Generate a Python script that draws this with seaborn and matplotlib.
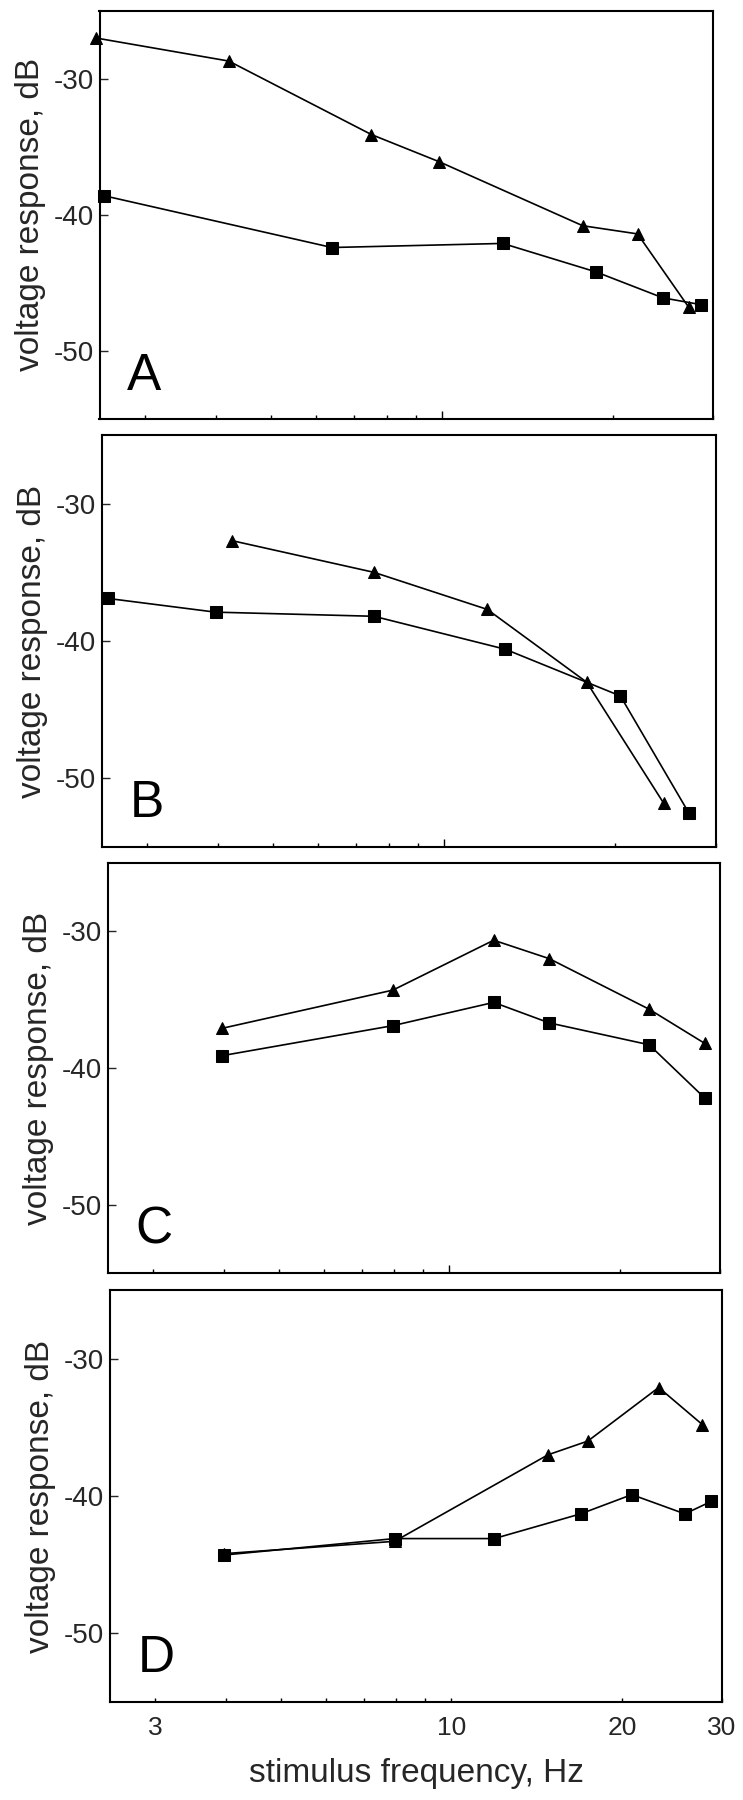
import numpy as np
import pandas as pd
import matplotlib
matplotlib.use("Agg")
import matplotlib.pyplot as plt
import seaborn as sns

# ---- data ----
panels = ["A", "B", "C", "D"]

a_tri_f = [2.46, 4.22, 7.52, 9.9, 17.7, 22.1, 27.2]
a_tri_db = [-27.0, -28.7, -34.1, -36.1, -40.8, -41.4, -46.8]
a_sq_f = [2.55, 6.41, 12.8, 18.7, 24.5, 28.6]
a_sq_db = [-38.6, -42.4, -42.1, -44.2, -46.1, -46.6]

b_tri_f = [4.24, 7.52, 11.9, 17.8, 24.3]
b_tri_db = [-32.7, -35.0, -37.7, -43.0, -51.8]
b_sq_f = [2.56, 3.96, 7.52, 12.8, 20.4, 26.9]
b_sq_db = [-36.9, -37.9, -38.2, -40.6, -44.0, -52.5]

c_tri_f = [3.97, 7.95, 11.97, 15.0, 22.5, 28.2]
c_tri_db = [-37.1, -34.3, -30.65, -32.0, -35.7, -38.2]
c_sq_f = [3.97, 7.95, 11.97, 15.0, 22.5, 28.2]
c_sq_db = [-39.1, -36.9, -35.2, -36.7, -38.3, -42.2]

d_tri_f = [3.97, 7.94, 14.8, 17.4, 23.2, 27.7]
d_tri_db = [-44.2, -43.3, -37.0, -36.0, -32.1, -34.8]
d_sq_f = [3.97, 7.94, 11.9, 16.9, 20.8, 25.8, 28.7]
d_sq_db = [-44.3, -43.1, -43.1, -41.3, -39.9, -41.3, -40.4]

y_ticks = [-30, -40, -50]
x_tick_labels = ["3", "10", "20", "30"]
x_major = [3, 10, 20, 30]
x_minor = [4, 5, 6, 7, 8, 9]

series = {
    "A": (a_tri_f, a_tri_db, a_sq_f, a_sq_db),
    "B": (b_tri_f, b_tri_db, b_sq_f, b_sq_db),
    "C": (c_tri_f, c_tri_db, c_sq_f, c_sq_db),
    "D": (d_tri_f, d_tri_db, d_sq_f, d_sq_db),
}

# ---- style ----
sns.set_style("ticks")
plt.rcParams["font.family"] = ["Liberation Sans", "DejaVu Sans"]
plt.rcParams["axes.linewidth"] = 1.5
plt.rcParams["axes.unicode_minus"] = False

W, H = 743, 1800
fig = plt.figure(figsize=(W / 100, H / 100), dpi=100)

# axes boxes in pixels: left, right, top, bottom
boxes = {
    "A": (99.5, 713, 10.7, 419),
    "B": (102, 715.6, 435, 847),
    "C": (108, 720, 863, 1273),
    "D": (110, 722, 1290, 1702),
}

for p in panels:
    l, r, t, b = boxes[p]
    ax = fig.add_axes([l / W, 1 - b / H, (r - l) / W, (b - t) / H])
    tf, tdb, sf, sdb = series[p]
    df = pd.DataFrame({
        "freq": list(tf) + list(sf),
        "db": list(tdb) + list(sdb),
        "kind": ["triangle"] * len(tf) + ["square"] * len(sf),
    })
    sns.lineplot(data=df, x="freq", y="db", style="kind",
                 markers={"triangle": "^", "square": "s"}, dashes=False,
                 color="black", markersize=8.5, markeredgecolor="black",
                 linewidth=1.2, legend=False, sort=False, clip_on=False,
                 ax=ax)
    ax.set_xscale("log")
    ax.set_xlim(2.5, 30)
    ax.set_ylim(-55, -25)
    for s in ax.spines.values():
        s.set_visible(True)
        s.set_linewidth(1.5)
        s.set_color("black")

    ax.set_xticks(x_major)
    ax.set_xticks(x_minor, minor=True)
    ax.set_yticks(y_ticks)
    ax.tick_params(axis="x", which="both", direction="in", top=False,
                   length=3, width=1.0, color="black")
    ax.tick_params(axis="y", which="both", direction="in", right=False,
                   length=5.5, width=1.0, labelsize=20, pad=4)
    ax.tick_params(axis="y", which="minor", left=False)
    # longer tick at 10
    ax.xaxis.get_major_ticks()[1].tick1line.set_markersize(5.5)

    if p == "D":
        ax.set_xticklabels(x_tick_labels)
        ax.tick_params(axis="x", which="major", labelsize=19, pad=10)
        ax.tick_params(axis="x", which="minor", labelbottom=False)
        ax.set_xlabel("stimulus frequency, Hz", fontsize=24, labelpad=13)
    else:
        ax.tick_params(axis="x", which="both", labelbottom=False)
        ax.set_xlabel("")

    ax.set_ylabel("voltage response, dB", fontsize=24)
    ax.yaxis.set_label_coords(-0.113, 0.5)
    ax.yaxis.label.set_va("center")

    ax.text(0.045, 0.072, p, transform=ax.transAxes, fontsize=37,
            ha="left", va="baseline", color="black")

fig.savefig("out.png", dpi=100)
